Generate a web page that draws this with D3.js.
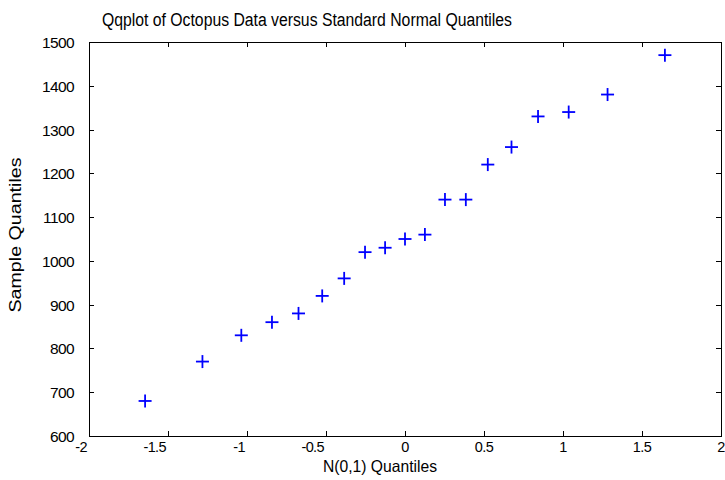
<!DOCTYPE html>
<html>
<head>
<meta charset="utf-8">
<script src="https://cdn.jsdelivr.net/npm/d3@7/dist/d3.min.js"></script>
<style>
  html, body { margin: 0; padding: 0; background: #fff; }
  svg { display: block; }
  text { font-family: "Liberation Sans", Arial, sans-serif; fill: #000; }
</style>
</head>
<body>
<svg id="chart" width="725" height="480"></svg>
<script>
// Theoretical standard normal quantiles (x) and sorted octopus weights (y)
const normalQuantiles = [-1.645, -1.282, -1.036, -0.842, -0.674, -0.524, -0.385, -0.253, -0.126, 0,
                         0.126, 0.253, 0.385, 0.524, 0.674, 0.842, 1.036, 1.282, 1.645];
const sampleQuantiles = [680, 770, 830, 860, 880, 920, 960, 1020, 1030, 1050,
                         1060, 1140, 1140, 1220, 1260, 1330, 1340, 1380, 1470];
const xTicks = [-2, -1.5, -1, -0.5, 0, 0.5, 1, 1.5, 2];
const yTicks = [600, 700, 800, 900, 1000, 1100, 1200, 1300, 1400, 1500];

const titleText = "Qqplot of Octopus Data versus Standard Normal Quantiles";
const xLabelText = "N(0,1) Quantiles";
const yLabelText = "Sample Quantiles";

const svg = d3.select("#chart");
const plotLeft = 89, plotRight = 721, plotTop = 42, plotBottom = 436;

const x = d3.scaleLinear().domain([-2, 2]).range([plotLeft, plotRight]);
const y = d3.scaleLinear().domain([600, 1500]).range([plotBottom, plotTop]);

const tickLen = 5;
const frame = svg.append("g").attr("shape-rendering", "crispEdges");

// Inward ticks on all four sides
xTicks.forEach(t => {
  const px = Math.round(x(t)) + 0.5;
  frame.append("line").attr("x1", px).attr("x2", px).attr("y1", plotBottom).attr("y2", plotBottom - tickLen)
    .attr("stroke", "#000");
  frame.append("line").attr("x1", px).attr("x2", px).attr("y1", plotTop).attr("y2", plotTop + tickLen)
    .attr("stroke", "#000");
});
yTicks.forEach(t => {
  const py = Math.round(y(t)) + 0.5;
  frame.append("line").attr("x1", plotLeft).attr("x2", plotLeft + tickLen).attr("y1", py).attr("y2", py)
    .attr("stroke", "#000");
  frame.append("line").attr("x1", plotRight).attr("x2", plotRight - tickLen).attr("y1", py).attr("y2", py)
    .attr("stroke", "#000");
});

// Plot box
frame.append("rect")
  .attr("x", plotLeft + 0.5).attr("y", plotTop + 0.5)
  .attr("width", plotRight - plotLeft).attr("height", plotBottom - plotTop)
  .attr("fill", "none").attr("stroke", "#000").attr("stroke-width", 1.2);

// Tick labels
svg.append("g").selectAll("text").data(yTicks).join("text")
  .attr("x", plotLeft - 15)
  .attr("y", d => y(d) + 6)
  .attr("text-anchor", "end")
  .attr("font-size", 15.5)
  .attr("letter-spacing", -0.6)
  .text(d => d);

svg.append("g").selectAll("text").data(xTicks).join("text")
  .attr("x", d => d < 0 ? x(d) - 2 : x(d))
  .attr("y", 452)
  .attr("text-anchor", d => d < 0 ? "end" : "middle")
  .attr("font-size", 14.5)
  .attr("letter-spacing", -0.6)
  .text(d => d);

// Points as blue plus markers
const half = 6.5;
const pts = svg.append("g").attr("stroke", "#0000ff").attr("stroke-width", 1.8);
normalQuantiles.forEach((q, i) => {
  const cx = x(q), cy = y(sampleQuantiles[i]);
  pts.append("line").attr("x1", cx - half).attr("x2", cx + half).attr("y1", cy).attr("y2", cy);
  pts.append("line").attr("x1", cx).attr("x2", cx).attr("y1", cy - half).attr("y2", cy + half);
});

// Title and axis labels
svg.append("text")
  .attr("x", 102).attr("y", 26)
  .attr("font-size", 18)
  .attr("textLength", 410).attr("lengthAdjust", "spacingAndGlyphs")
  .text(titleText);

svg.append("text")
  .attr("x", 323).attr("y", 472)
  .attr("font-size", 16.5)
  .attr("textLength", 114).attr("lengthAdjust", "spacingAndGlyphs")
  .text(xLabelText);

svg.append("text")
  .attr("transform", "translate(21,235) rotate(-90)")
  .attr("text-anchor", "middle")
  .attr("font-size", 16.5)
  .attr("textLength", 155).attr("lengthAdjust", "spacingAndGlyphs")
  .text(yLabelText);
</script>
</body>
</html>
